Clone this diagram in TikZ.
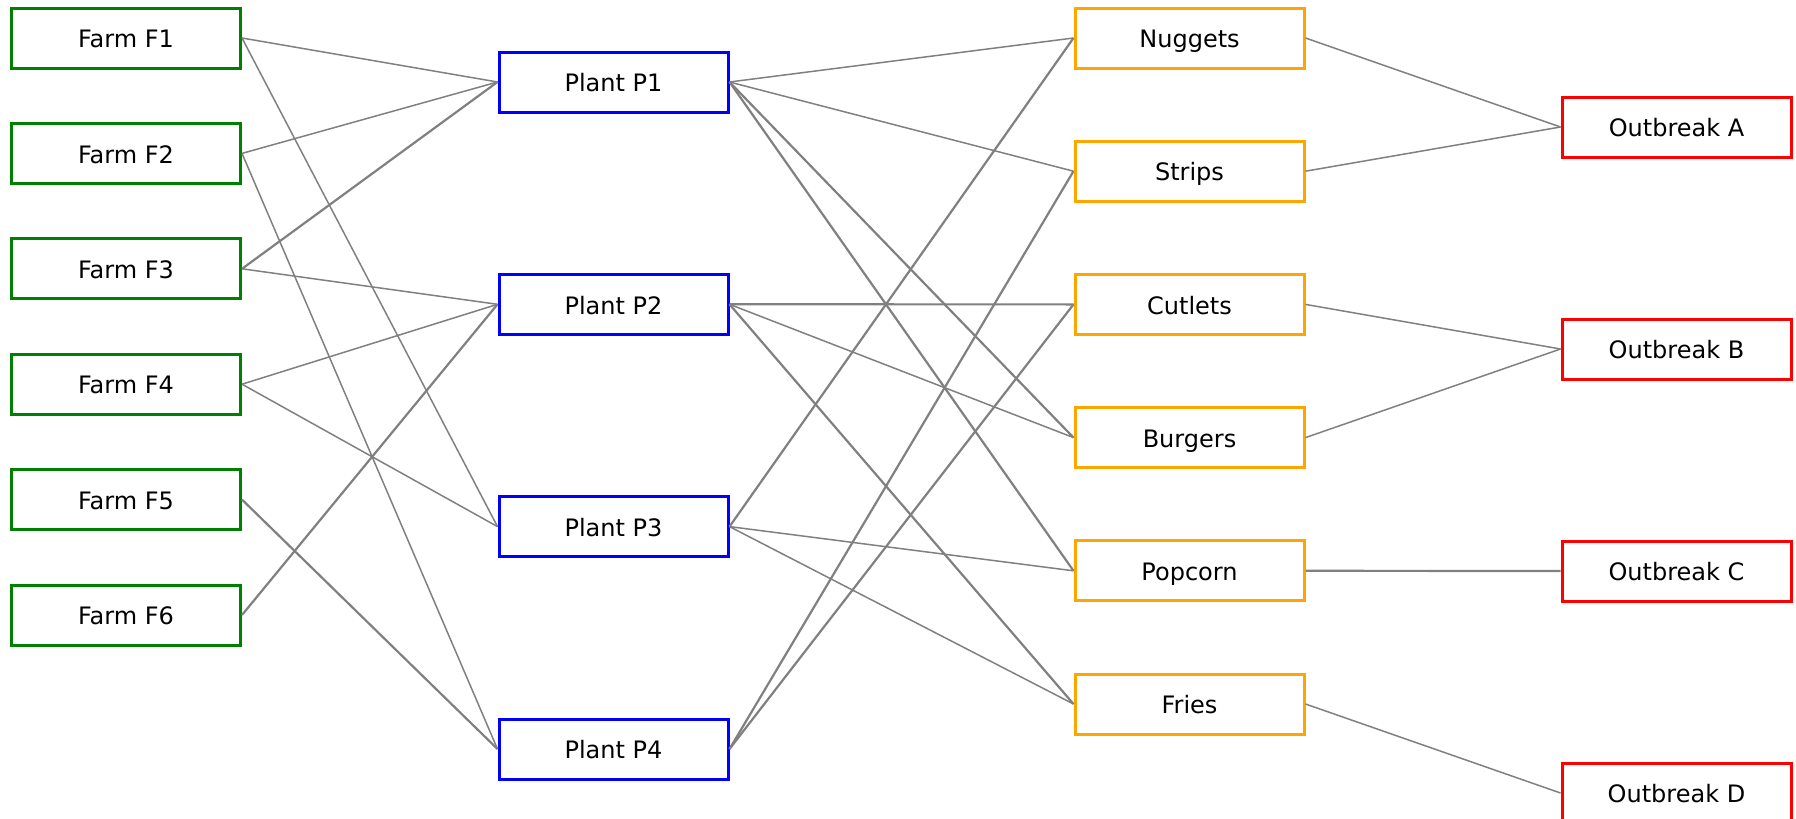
\documentclass[tikz,border=0pt]{standalone}
\usepackage{fontspec}
\setmainfont{DejaVu Sans}
\begin{document}
\begin{tikzpicture}[x=0.5pt,y=-0.5pt,
  box/.style={draw,line width=1.5pt,minimum width=114.5pt,minimum height=30pt,inner sep=0pt,text height=9.75pt,text depth=0pt,font=\fontsize{12}{14}\selectfont,fill=white},
  farm/.style={box,draw={rgb,255:red,0;green,128;blue,0}},
  plant/.style={box,draw={rgb,255:red,0;green,0;blue,255}},
  prod/.style={box,draw={rgb,255:red,255;green,165;blue,0}},
  outb/.style={box,draw={rgb,255:red,255;green,0;blue,0}},
  edge/.style={draw={rgb,255:red,128;green,128;blue,128},line width=0.75pt},
  tedge/.style={edge,line width=1.1pt}]
\useasboundingbox (0,0) rectangle (1796,819);
% farms
\node[farm] (F1) at (126,38) {Farm F1};
\node[farm] (F2) at (126,153.4) {Farm F2};
\node[farm] (F3) at (126,268.8) {Farm F3};
\node[farm] (F4) at (126,384.2) {Farm F4};
\node[farm] (F5) at (126,499.6) {Farm F5};
\node[farm] (F6) at (126,615) {Farm F6};
% plants
\node[plant] (P1) at (613.5,82) {Plant P1};
\node[plant] (P2) at (613.5,304.3) {Plant P2};
\node[plant] (P3) at (613.5,526.6) {Plant P3};
\node[plant] (P4) at (613.5,749) {Plant P4};
% products
\node[prod] (Nu) at (1189.5,38) {Nuggets};
\node[prod] (St) at (1189.5,171.2) {Strips};
\node[prod] (Cu) at (1189.5,304.4) {Cutlets};
\node[prod] (Bu) at (1189.5,437.6) {Burgers};
\node[prod] (Po) at (1189.5,570.8) {Popcorn};
\node[prod] (Fr) at (1189.5,704) {Fries};
% outbreaks
\node[outb] (OA) at (1676.5,127) {Outbreak A};
\node[outb] (OB) at (1676.5,349) {Outbreak B};
\node[outb] (OC) at (1676.5,571) {Outbreak C};
\node[outb] (OD) at (1676.5,793) {Outbreak D};
% edges
\path[edge] (F1.east) -- (P1.west);
\path[edge] (F1.east) -- (P3.west);
\path[edge] (F2.east) -- (P1.west);
\path[edge] (F2.east) -- (P4.west);
\path[tedge] (F3.east) -- (P1.west);
\path[edge] (F3.east) -- (P2.west);
\path[edge] (F4.east) -- (P2.west);
\path[edge] (F4.east) -- (P3.west);
\path[tedge] (F5.east) -- (P4.west);
\path[tedge] (F6.east) -- (P2.west);
\path[edge] (P1.east) -- (Nu.west);
\path[edge] (P1.east) -- (St.west);
\path[tedge] (P1.east) -- (Bu.west);
\path[tedge] (P1.east) -- (Po.west);
\path[tedge] (P2.east) -- (Cu.west);
\path[edge] (P2.east) -- (Bu.west);
\path[tedge] (P2.east) -- (Fr.west);
\path[tedge] (P3.east) -- (Nu.west);
\path[edge] (P3.east) -- (Po.west);
\path[edge] (P3.east) -- (Fr.west);
\path[tedge] (P4.east) -- (St.west);
\path[tedge] (P4.east) -- (Cu.west);
\path[edge] (Nu.east) -- (OA.west);
\path[edge] (St.east) -- (OA.west);
\path[edge] (Cu.east) -- (OB.west);
\path[edge] (Bu.east) -- (OB.west);
\path[tedge] (Po.east) -- (OC.west);
\path[edge] (Fr.east) -- (OD.west);
\end{tikzpicture}
\end{document}
